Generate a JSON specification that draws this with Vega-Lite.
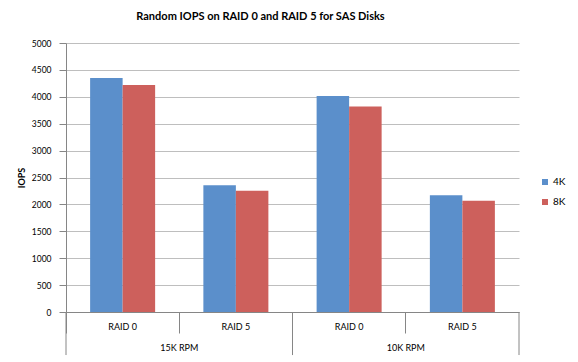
{
  "$schema": "https://vega.github.io/schema/vega-lite/v6.json",
  "autosize": "none",
  "width": 453,
  "height": 269,
  "padding": {"left": 66, "top": 43, "right": 59, "bottom": 50},
  "background": "white",
  "config": {
    "font": "Lato",
    "view": {"stroke": null},
    "axis": {"labelFont": "Lato", "titleFont": "Lato", "labelColor": "#000000", "titleColor": "#000000"}
  },
  "title": {
    "text": "Random IOPS on RAID 0 and RAID 5 for SAS Disks",
    "fontSize": 11,
    "fontWeight": "bold",
    "color": "#000000",
    "anchor": "middle",
    "offset": 17,
    "dx": -32
  },
  "datasets": {
    "bars": [
      {"cat": "15K RPM|RAID 0", "rpm": "15K RPM", "raid": "RAID 0", "size": "4K", "iops": 4350},
      {"cat": "15K RPM|RAID 0", "rpm": "15K RPM", "raid": "RAID 0", "size": "8K", "iops": 4220},
      {"cat": "15K RPM|RAID 5", "rpm": "15K RPM", "raid": "RAID 5", "size": "4K", "iops": 2355},
      {"cat": "15K RPM|RAID 5", "rpm": "15K RPM", "raid": "RAID 5", "size": "8K", "iops": 2255},
      {"cat": "10K RPM|RAID 0", "rpm": "10K RPM", "raid": "RAID 0", "size": "4K", "iops": 4015},
      {"cat": "10K RPM|RAID 0", "rpm": "10K RPM", "raid": "RAID 0", "size": "8K", "iops": 3820},
      {"cat": "10K RPM|RAID 5", "rpm": "10K RPM", "raid": "RAID 5", "size": "4K", "iops": 2170},
      {"cat": "10K RPM|RAID 5", "rpm": "10K RPM", "raid": "RAID 5", "size": "8K", "iops": 2070}
    ],
    "groups": [
      {"rpm": "15K RPM"},
      {"rpm": "10K RPM"}
    ]
  },
  "resolve": {"scale": {"x": "independent"}, "axis": {"x": "independent", "y": "independent"}},
  "layer": [
    {
      "data": {"name": "bars"},
      "mark": {"type": "bar"},
      "encoding": {
        "x": {
          "field": "cat",
          "type": "nominal",
          "sort": ["15K RPM|RAID 0", "15K RPM|RAID 5", "10K RPM|RAID 0", "10K RPM|RAID 5"],
          "scale": {"paddingInner": 0, "paddingOuter": 0},
          "axis": {
            "title": null,
            "labelAngle": 0,
            "labelExpr": "split(datum.label, '|')[1]",
            "labelFontSize": 9,
            "labelPadding": -11,
            "bandPosition": 0,
            "ticks": true,
            "tickSize": 21,
            "tickColor": "#868686",
            "domainColor": "#868686",
            "grid": false
          }
        },
        "xOffset": {
          "field": "size",
          "type": "nominal",
          "sort": ["4K", "8K"],
          "scale": {"paddingInner": 0, "paddingOuter": 0.742}
        },
        "y": {
          "field": "iops",
          "type": "quantitative",
          "scale": {"domain": [0, 5000]},
          "axis": {
            "title": "IOPS",
            "titleFontSize": 9,
            "titleFontWeight": "bold",
            "titlePadding": 5,
            "values": [0, 500, 1000, 1500, 2000, 2500, 3000, 3500, 4000, 4500, 5000],
            "labelOverlap": false,
            "format": "d",
            "labelFontSize": 8.5,
            "labelPadding": 8,
            "tickSize": 7,
            "tickColor": "#868686",
            "domainColor": "#868686",
            "gridColor": "#BEBEBE"
          }
        },
        "color": {
          "field": "size",
          "type": "nominal",
          "sort": ["4K", "8K"],
          "scale": {"domain": ["4K", "8K"], "range": ["#5B8FCB", "#CD605C"]},
          "legend": {
            "title": null,
            "orient": "none",
            "legendX": 474,
            "legendY": 134,
            "symbolType": "square",
            "symbolSize": 36,
            "symbolStrokeWidth": 0,
            "labelFontSize": 10,
            "labelOffset": 3,
            "rowPadding": 10,
            "labelColor": "#000000"
          }
        }
      }
    },
    {
      "data": {"name": "groups"},
      "mark": {"type": "rule", "color": "#868686", "strokeWidth": 1},
      "encoding": {
        "x": {
          "field": "rpm",
          "type": "nominal",
          "bandPosition": 0,
          "sort": ["15K RPM", "10K RPM"],
          "scale": {"domain": ["15K RPM", "10K RPM"], "paddingInner": 0, "paddingOuter": 0},
          "axis": null
        },
        "y": {"datum": 0, "type": "quantitative", "axis": null},
        "y2": {"datum": -800}
      }
    },
    {
      "data": {"name": "groups"},
      "mark": {"type": "rule", "color": "#868686", "strokeWidth": 1},
      "encoding": {
        "x": {
          "field": "rpm",
          "type": "nominal",
          "bandPosition": 1,
          "sort": ["15K RPM", "10K RPM"],
          "scale": {"domain": ["15K RPM", "10K RPM"], "paddingInner": 0, "paddingOuter": 0},
          "axis": null
        },
        "y": {"datum": 0, "type": "quantitative", "axis": null},
        "y2": {"datum": -800}
      }
    },
    {
      "data": {"name": "groups"},
      "mark": {"type": "text", "fontSize": 9, "baseline": "middle", "align": "center", "color": "#000000", "font": "Lato"},
      "encoding": {
        "x": {
          "field": "rpm",
          "type": "nominal",
          "sort": ["15K RPM", "10K RPM"],
          "scale": {"domain": ["15K RPM", "10K RPM"], "paddingInner": 0, "paddingOuter": 0},
          "axis": null
        },
        "y": {"datum": -670, "type": "quantitative", "axis": null},
        "text": {"field": "rpm"}
      }
    }
  ]
}
